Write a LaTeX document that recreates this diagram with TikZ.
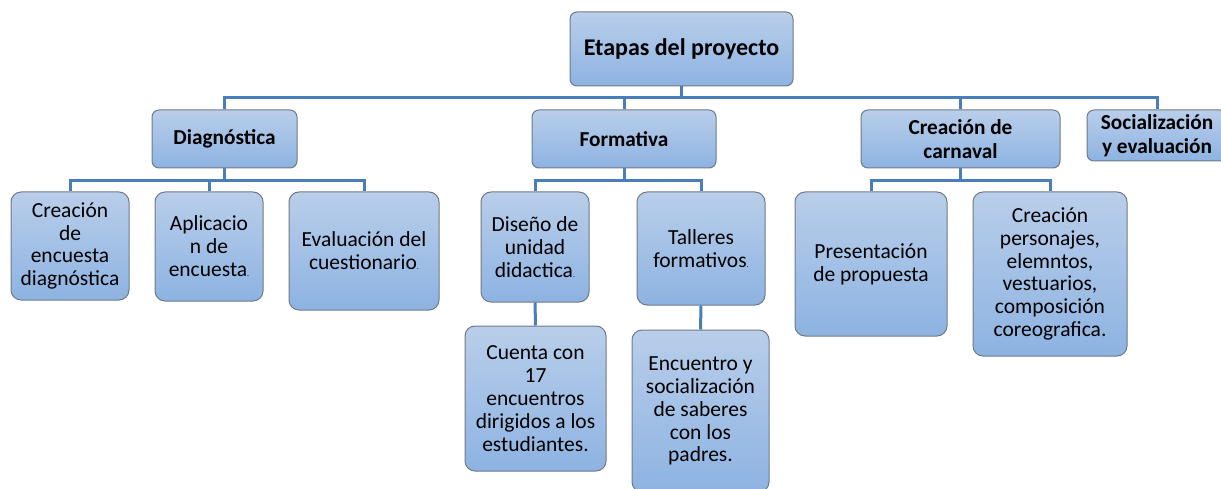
\documentclass[tikz,border=0pt]{standalone}
\usepackage{fontspec}
\setmainfont{Carlito}
\usetikzlibrary{calc}
\definecolor{boxtop}{HTML}{B9CEEA}
\definecolor{boxbot}{HTML}{8DB3E2}
\definecolor{boxline}{HTML}{6F7A86}
\definecolor{connc}{HTML}{4A7EBB}
\tikzset{
  box/.style={draw=boxline, line width=1pt, top color=boxtop, bottom color=boxbot,
    align=center, inner sep=0pt, text=black},
  topbox/.style={box, rounded corners=7pt, font=\fontsize{24}{26}\selectfont\bfseries},
  midbox/.style={box, rounded corners=7pt, font=\fontsize{21.3}{23.5}\selectfont\bfseries},
  leafbox/.style={box, rounded corners=10pt, font=\fontsize{21.5}{22.9}\selectfont},
  conn/.style={draw=connc, line width=3pt}
}
\newcommand{\smdot}{{\fontsize{8}{8}\selectfont.}}
\begin{document}
\begin{tikzpicture}[x=1pt,y=-1pt]
\useasboundingbox (0,0) rectangle (1221,489);
% root
\node[topbox, minimum width=223, minimum height=74] (root) at (681.5,49) {Etapas del proyecto};
% level 2
\node[midbox, minimum width=145, minimum height=58] (diag) at (224.5,139) {Diagnóstica};
\node[midbox, minimum width=184, minimum height=58] (form) at (624,139) {Formativa};
\node[midbox, minimum width=199, minimum height=58] (carn) at (960.5,139) {Creación de\\carnaval};
\node[midbox, minimum width=140, minimum height=51] (socl) at (1157,135.5) {Socialización\\y evaluación};
% level 3
\node[leafbox, minimum width=118, minimum height=108] (c1) at (70,246) {Creación\\de\\encuesta\\diagnóstica};
\node[leafbox, minimum width=108, minimum height=109] (c2) at (209,246.5) {Aplicacio\\n de\\encuesta\smdot};
\node[leafbox, minimum width=150, minimum height=118] (c3) at (364,251) {Evaluación del\\cuestionario\smdot};
\node[leafbox, minimum width=108, minimum height=110] (f1) at (535,247) {Diseño de\\unidad\\didactica\smdot};
\node[leafbox, minimum width=128, minimum height=113] (f2) at (701,248.5) {Talleres\\formativos\smdot};
\node[leafbox, minimum width=141, minimum height=145] (f1a) at (535.5,398.5) {Cuenta con\\17\\encuentros\\dirigidos a los\\estudiantes.};
\node[leafbox, minimum width=137, minimum height=162] (f2a) at (700.5,411) {Encuentro y\\socialización\\de saberes\\con los\\padres.};
\node[leafbox, minimum width=152, minimum height=144] (k1) at (871,264) {Presentación\\de propuesta};
\node[leafbox, minimum width=154, minimum height=164] (k2) at (1050,274) {Creación\\personajes,\\elemntos,\\vestuarios,\\composición\\coreografica.};
% buses
\coordinate (busA) at (0,98);
\coordinate (busB) at (0,181);
\draw[conn] (root.south) -- (root.south |- busA);
\draw[conn] (diag.north) -- (diag.north |- busA) -- (socl.north |- busA) -- (socl.north);
\draw[conn] (form.north) -- (form.north |- busA);
\draw[conn] (carn.north) -- (carn.north |- busA);
\draw[conn] (diag.south) -- (diag.south |- busB);
\draw[conn] (c1.north) -- (c1.north |- busB) -- (c3.north |- busB) -- (c3.north);
\draw[conn] (c2.north) -- (c2.north |- busB);
\draw[conn] (form.south) -- (form.south |- busB);
\draw[conn] (f1.north) -- (f1.north |- busB) -- (f2.north |- busB) -- (f2.north);
\draw[conn] (carn.south) -- (carn.south |- busB);
\draw[conn] (k1.north) -- (k1.north |- busB) -- (k2.north |- busB) -- (k2.north);
\draw[conn] (f1.south) -- (f1a.north);
\draw[conn] (f2.south) -- (f2a.north);
\end{tikzpicture}
\end{document}
